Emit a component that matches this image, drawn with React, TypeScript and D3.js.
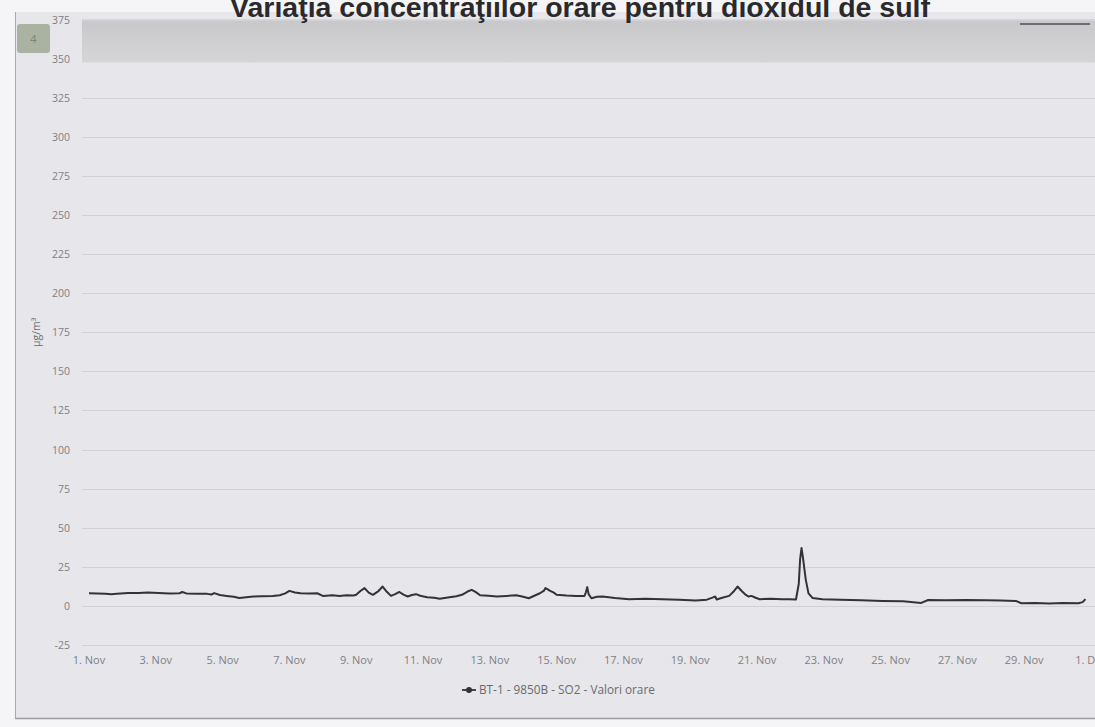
import React from "react";
import * as d3 from "d3";

// hours since 1 Nov 00:00
const sampleHours = [
  0, 6, 12, 16, 20, 28, 36, 42, 50, 58, 65, 67, 70, 78, 85, 88, 90, 94, 99, 104,
  108, 113, 118, 124, 132, 137, 141, 144, 148, 152, 158, 164, 168, 175, 180, 185,
  190, 192, 195, 198, 201, 204, 208, 211, 214, 217, 220, 223, 226, 229, 232, 235,
  238, 243, 248, 252, 259, 264, 268, 272, 275, 278, 281, 287, 293, 300, 307, 312,
  316, 320, 324, 327, 328, 330, 331, 334, 336, 343, 350, 356, 357, 358, 359, 361,
  365, 369, 378, 388, 400, 412, 424, 436, 444, 448, 450, 451, 455, 460, 463, 466,
  469, 472, 474, 476, 479, 482, 490, 498, 503, 508, 510, 511, 512, 513, 515, 517,
  520, 527, 540, 555, 570, 585, 598, 603, 615, 630, 645, 655, 666, 670, 680, 690,
  700, 711, 714, 716,
];
const so2Values = [
  8.1, 8.0, 7.8, 7.5, 7.7, 8.2, 8.3, 8.5, 8.2, 8.0, 8.1, 8.9, 8.0, 7.8, 7.7, 7.3, 8.2, 7.0, 6.4, 5.8,
  5.1, 5.6, 6.0, 6.2, 6.4, 6.8, 8.0, 9.6, 8.6, 8.1, 8.0, 8.1, 6.4, 6.8, 6.3, 6.8,
  6.6, 7.1, 9.5, 11.4, 8.5, 7.1, 9.5, 12.4, 9.0, 6.4, 7.5, 8.9, 7.2, 6.0, 7.0, 7.5,
  6.5, 5.6, 5.2, 4.6, 5.6, 6.2, 7.1, 9.2, 10.3, 8.8, 6.8, 6.5, 6.0, 6.4, 6.8, 5.8,
  4.9, 6.5, 8.1, 9.8, 11.4, 10.4, 9.8, 8.5, 7.1, 6.6, 6.4, 6.4, 8.5, 12.0, 7.5, 4.9,
  5.8, 6.0, 5.0, 4.3, 4.5, 4.3, 4.0, 3.4, 4.0, 5.3, 6.0, 4.1, 5.2, 6.4, 9.0, 12.4,
  9.5, 7.0, 6.0, 6.4, 5.2, 4.3, 4.5, 4.3, 4.3, 4.1, 14, 30, 37, 31, 17, 8,
  5.0, 4.3, 4.0, 3.6, 3.2, 3.0, 1.9, 3.8, 3.6, 3.8, 3.6, 3.4, 3.2, 1.7, 1.9, 1.6,
  1.8, 1.7, 2.4, 4.3,
];

const yTicks = [-25, 0, 25, 50, 75, 100, 125, 150, 175, 200, 225, 250, 275, 300, 325, 350, 375];
const xTickDays = [1, 3, 5, 7, 9, 11, 13, 15, 17, 19, 21, 23, 25, 27, 29, 31];

const title = "Variaţia concentraţiilor orare pentru dioxidul de sulf";
const seriesName = "BT-1 - 9850B - SO2 - Valori orare";
const yTitle = "µg/m³";

const W = 1095;
const H = 727;
const start = Date.UTC(2019, 10, 1);
const HOUR = 3600 * 1000;

export default function App() {
  const x = d3
    .scaleUtc()
    .domain([new Date(start), new Date(Date.UTC(2019, 11, 1))])
    .range([89, 1091]);
  const y = d3.scaleLinear().domain([-25, 375]).range([645, 19.5]);
  const fmt = d3.utcFormat("%-d. %b");

  const points: [Date, number][] = sampleHours.map((h, i) => [new Date(start + h * HOUR), so2Values[i]]);
  const line = d3
    .line<[Date, number]>()
    .x((d) => x(d[0]))
    .y((d) => y(d[1]));

  const font = "'Open Sans', 'DejaVu Sans', sans-serif";

  return (
    <div style={{ position: "absolute", left: 0, top: 0 }}>
      <svg width={W} height={H} style={{ display: "block" }}>
        <defs>
          <linearGradient id="band" x1="0" y1="0" x2="0" y2="1">
            <stop offset="0" stopColor="#c8c8ca" />
            <stop offset="1" stopColor="#d6d6d8" />
          </linearGradient>
        </defs>
        <rect x={0} y={0} width={W} height={H} fill="#f5f5f7" />
        <rect x={15} y={12} width={W - 15} height={706} fill="#e7e6eb" />
        <line x1={15.5} x2={15.5} y1={12} y2={718} stroke="#a9a9ad" />
        <line x1={15} x2={W} y1={718.5} y2={718.5} stroke="#9d9da1" strokeWidth={1.5} />

        {/* grey band at the top of the plot */}
        <rect x={82} y={y(375)} width={W - 82} height={y(347.5) - y(375)} fill="url(#band)" />
        <rect x={17} y={24} width={33} height={29} rx={3} fill="#aab3a2" />
        <text x={33.5} y={43} fontSize={11} fill="#7d8576" textAnchor="middle" fontFamily={font}>
          4
        </text>
        <line x1={1020} x2={1090} y1={24} y2={24} stroke="#6e6e72" strokeWidth={2} />

        {/* grid */}
        {yTicks.map((t) => (
          <line key={t} x1={82} x2={W} y1={Math.round(y(t)) + 0.5} y2={Math.round(y(t)) + 0.5} stroke="#d2d1d7" />
        ))}
        {yTicks.map((t) => (
          <text
            key={"l" + t}
            x={70}
            y={y(t) + 4}
            textAnchor="end"
            fontSize={10.5}
            fill="#7f7f84"
            fontFamily={font}
          >
            {t}
          </text>
        ))}
        <text
          transform={`translate(40,${y(175)}) rotate(-90)`}
          textAnchor="middle"
          fontSize={10.5}
          fill="#6e6e72"
          fontFamily={font}
        >
          {yTitle}
        </text>

        {xTickDays.map((d) => {
          const dt = new Date(start + (d - 1) * 24 * HOUR);
          return (
            <text
              key={d}
              x={x(dt)}
              y={664}
              textAnchor="middle"
              fontSize={11}
              fill="#7f7f84"
              fontFamily={font}
            >
              {fmt(dt)}
            </text>
          );
        })}

        <path d={line(points) || ""} fill="none" stroke="#333335" strokeWidth={2} strokeLinejoin="round" />

        {/* legend */}
        <line x1={462} x2={476} y1={690} y2={690} stroke="#343436" strokeWidth={1.8} />
        <circle cx={469} cy={690} r={3} fill="#343436" />
        <text x={479} y={694} fontSize={11.8} fill="#6a6a6e" fontFamily={font}>
          {seriesName}
        </text>

        <text
          x={580}
          y={17}
          textAnchor="middle"
          fontSize={28.5}
          fontWeight="bold"
          fill="#2a2a2c"
          fontFamily="'Liberation Sans', Arial, sans-serif"
        >
          {title}
        </text>
      </svg>
    </div>
  );
}
